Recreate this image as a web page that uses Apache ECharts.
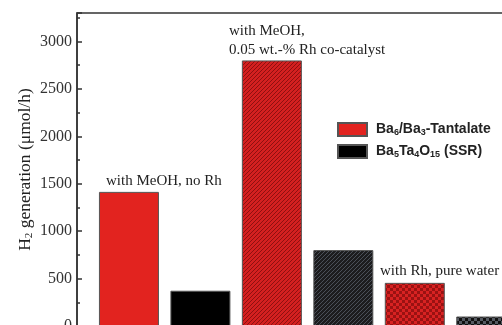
<!DOCTYPE html>
<html>
<head>
<meta charset="utf-8">
<script src="https://cdn.jsdelivr.net/npm/echarts@6/dist/echarts.min.js"></script>
<style>
  html, body { margin: 0; padding: 0; background: #fff; }
  #chart { width: 502px; height: 325px; }
</style>
</head>
<body>
<div id="chart"></div>
<script>
// bar positions on the x axis (1..6), alternating sample types
const tantalateX = [1, 3, 5];
const tantalateVals = [1414, 2800, 455];
const ssrX = [2, 4, 6];
const ssrVals = [372, 800, 100];
const yTicks = { min: 0, max: 3300, interval: 500 };
const notes = [
  ['with MeOH, no Rh', 106, 174],
  ['with MeOH,', 229, 24],
  ['0.05 wt.-% Rh co-catalyst', 229, 43],
  ['with Rh, pure water', 380, 264]
];

function makePattern(bg, fg, kind) {
  const c = document.createElement('canvas');
  const s = kind === 'hatch' ? 4 : 6;
  c.width = s; c.height = s;
  const ctx = c.getContext('2d');
  ctx.fillStyle = bg;
  ctx.fillRect(0, 0, s, s);
  ctx.fillStyle = fg;
  if (kind === 'hatch') {
    for (let i = 0; i < s; i++) ctx.fillRect(s - 1 - i, i, 1, 1);
  } else {
    ctx.fillRect(0, 0, 3, 3);
    ctx.fillRect(3, 3, 3, 3);
  }
  return { image: c, repeat: 'repeat' };
}

const red = '#e2231f';
const styles1 = [
  { color: red },
  { color: makePattern('#d42020', '#8e1010', 'hatch') },
  { color: makePattern('#d82222', '#9a1212', 'check') }
];
const styles2 = [
  { color: '#000' },
  { color: makePattern('#1c1c1e', '#4a4f58', 'hatch') },
  { color: makePattern('#111', '#555a62', 'check') }
];

const chart = echarts.init(document.getElementById('chart'));
chart.setOption({
  animation: false,
  grid: {
    left: 77, top: 13, right: -70, bottom: -1,
    outerBoundsMode: 'none', containLabel: false,
    show: true, borderColor: '#333', borderWidth: 1.5
  },
  legend: {
    orient: 'vertical', left: 337, top: 122, padding: 0,
    itemWidth: 29, itemHeight: 13, itemGap: 7,
    icon: 'rect',
    formatter: function (name) {
      if (name === 'A') return '{t|Ba}{s|6}{t|/Ba}{s|3}{t|-Tantalate}';
      return '{t|Ba}{s|5}{t|Ta}{s|4}{t|O}{s|15}{t| (SSR)}';
    },
    textStyle: {
      padding: [0, 0, 0, 4],
      rich: {
        t: { fontFamily: 'Liberation Sans', fontSize: 14, fontWeight: 'bold', color: '#222' },
        s: { fontFamily: 'Liberation Sans', fontSize: 9, fontWeight: 'bold', color: '#222', verticalAlign: 'bottom', padding: [6, 0, 0, 0] }
      }
    },
    data: ['A', 'B']
  },
  xAxis: {
    type: 'value', min: 0.273, max: 7.2,
    axisLine: { show: false }, axisTick: { show: false },
    axisLabel: { show: false }, splitLine: { show: false }
  },
  yAxis: {
    type: 'value', min: yTicks.min, max: yTicks.max, interval: yTicks.interval,
    name: '{t|H}{s|2}{t| generation (μmol/h)}',
    nameLocation: 'middle', nameGap: 42, nameMoveOverlap: false,
    nameTextStyle: {
      rich: {
        t: { fontFamily: 'Liberation Serif', fontSize: 17.5, color: '#222' },
        s: { fontFamily: 'Liberation Serif', fontSize: 11, color: '#222', padding: [9, 0, 0, 0] }
      }
    },
    axisLine: { show: true, lineStyle: { color: '#333', width: 1.5 } },
    axisTick: { show: true, inside: true, length: 5, lineStyle: { color: '#333', width: 1.5 } },
    minorTick: { show: true, splitNumber: 2, length: 3, lineStyle: { color: '#333', width: 1.5 } },
    axisLabel: {
      fontFamily: 'Liberation Serif', fontSize: 16, color: '#333', margin: 5,
      showMaxLabel: false, formatter: v => String(v)
    },
    splitLine: { show: false }
  },
  graphic: notes.map(n => ({
    type: 'text', left: n[1], top: n[2],
    style: { text: n[0], font: '15px "Liberation Serif"', fill: '#222' }
  })),
  series: [
    {
      name: 'A', type: 'bar', barWidth: 60, barGap: '-100%',
      itemStyle: { color: red, borderColor: '#555', borderWidth: 1 },
      data: tantalateX.map((x, i) => ({ value: [x, tantalateVals[i]], itemStyle: styles1[i] }))
    },
    {
      name: 'B', type: 'bar', barWidth: 60, barGap: '-100%',
      itemStyle: { color: '#000', borderColor: '#555', borderWidth: 1 },
      data: ssrX.map((x, i) => ({ value: [x, ssrVals[i]], itemStyle: styles2[i] }))
    }
  ]
});
</script>
</body>
</html>
